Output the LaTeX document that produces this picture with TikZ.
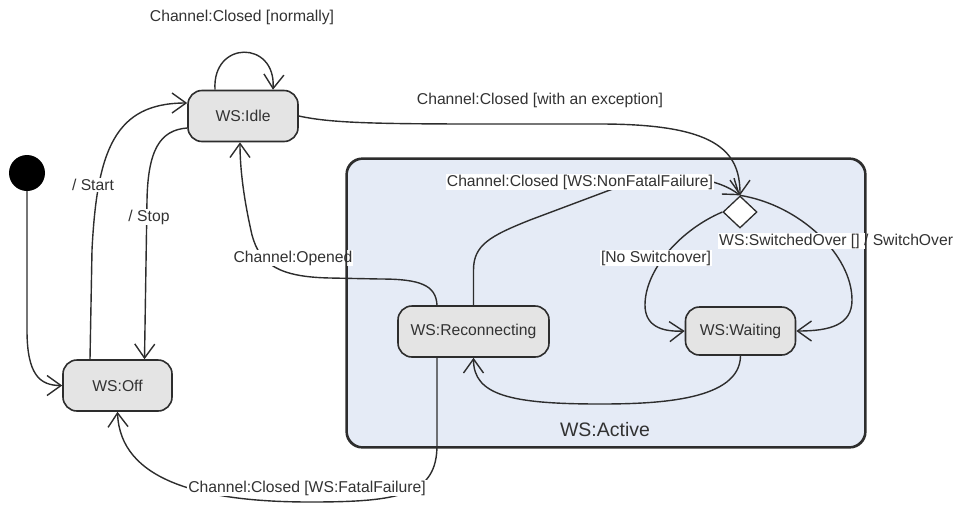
\documentclass[tikz,border=0pt]{standalone}
\usepackage{fontspec}
\setmainfont{Liberation Sans}
\usetikzlibrary{arrows.meta,shapes.geometric}
\definecolor{ink}{RGB}{45,45,45}
\definecolor{txt}{RGB}{50,50,50}
\definecolor{statefill}{RGB}{228,228,228}
\definecolor{activefill}{RGB}{229,235,246}
\begin{document}
\begin{tikzpicture}[x=1pt,y=-1pt,
  font=\fontsize{15.7}{18}\selectfont, text=txt,
  state/.style={draw=ink, line width=1.6pt, fill=statefill, rounded corners=14pt, minimum height=51pt, inner sep=0pt},
  tr/.style={draw=ink, line width=1.4pt, -{Straight Barb[length=14pt,width=20pt,line width=1.4pt]}},
  lbl/.style={inner sep=1pt, fill=white},
  plainlbl/.style={inner sep=1pt}]
\useasboundingbox (0,0) rectangle (955,504);
\node[draw=ink, line width=1.6pt, fill=activefill, rounded corners=16pt, minimum width=518pt, minimum height=288pt, inner sep=0pt] (active) at (606,303) {};
\node[circle, fill=black, minimum size=36pt, inner sep=0pt] (init) at (27,173) {};
\node[state, minimum width=110pt] (idle) at (243,116) {WS:Idle};
\node[state, minimum width=109pt] (off) at (117.5,385.5) {WS:Off};
\node[state, minimum width=151pt] (recon) at (473.5,331.5) {WS:Reconnecting};
\node[state, minimum width=110pt, minimum height=48pt] (wait) at (740.5,331) {WS:Waiting};
\node[diamond, draw=ink, line width=1.3pt, fill=white, minimum width=34pt, minimum height=32pt, inner sep=0pt] (choice) at (740,212) {};

\draw[tr] (init.south) -- (27,330) .. controls (27,375) and (40,385.5) .. (off.west);
\draw[tr] ([xshift=-27.5pt]off.north) -- (92,250) .. controls (97,150) and (115,103) .. ([yshift=13pt]idle.west);
\draw[tr] ([yshift=-12pt]idle.west) .. controls (160,130) and (148,150) .. (147,200) -- ([xshift=27pt]off.north);
\draw[tr] ([xshift=-28pt]idle.north) .. controls (212,40) and (276,40) .. ([xshift=30pt]idle.north);
\draw[tr] (idle.east) .. controls (340,125) and (400,124) .. (600,124) .. controls (715,124) and (740,150) .. (choice.north);
\draw[tr] (recon.north) -- (473.5,270) .. controls (473.5,245) and (490,236) .. (530,220) -- (610,190) .. controls (680,168) and (720,180) .. (choice.north);
\draw[tr] ([xshift=-36.5pt]recon.north) .. controls (436,285) and (420,279) .. (380,279) -- (330,278) .. controls (280,277) and (260,265) .. (252,235) .. controls (244,200) and (240,170) .. ([xshift=-3pt]idle.south);
\draw[tr] ([xshift=-36.5pt]recon.south) -- (437,445) .. controls (437,495) and (400,502) .. (310,502) .. controls (200,502) and (120,480) .. (off.south);
\draw[tr] (wait.south) .. controls (740,400) and (660,404) .. (600,404) .. controls (510,404) and (473.5,395) .. (recon.south);
\draw[tr] (choice.west) .. controls (680,230) and (645,270) .. (645,305) .. controls (645,325) and (660,332) .. (wait.west);
\draw[tr] (choice.north) .. controls (800,205) and (852,255) .. (852,300) .. controls (852,325) and (830,331) .. (wait.east);

\node[plainlbl] (lnorm) at (242,17) {Channel:Closed [normally]};
\node[plainlbl] (lexc) at (540,100) {Channel:Closed [with an exception]};
\node[lbl] (lnonf) at (580,182) {Channel:Closed [WS:NonFatalFailure]};
\node[lbl] (lstart) at (93,185) {/ Start};
\node[lbl] (lstop) at (149,217) {/ Stop};
\node[lbl] (lopen) at (293,258) {Channel:Opened};
\node[lbl] (lnosw) at (656,258) {[No Switchover]};
\node[lbl, anchor=west] (lsw) at (718,241) {WS:SwitchedOver [] / SwitchOver};
\node[lbl] (lfatal) at (307,488) {Channel:Closed [WS:FatalFailure]};
\node[font=\fontsize{19.5}{22}\selectfont] (lact) at (605,430) {WS:Active};
\draw[draw=ink, line width=1.6pt, rounded corners=16pt] (active.south west) rectangle (active.north east);
\end{tikzpicture}
\end{document}
